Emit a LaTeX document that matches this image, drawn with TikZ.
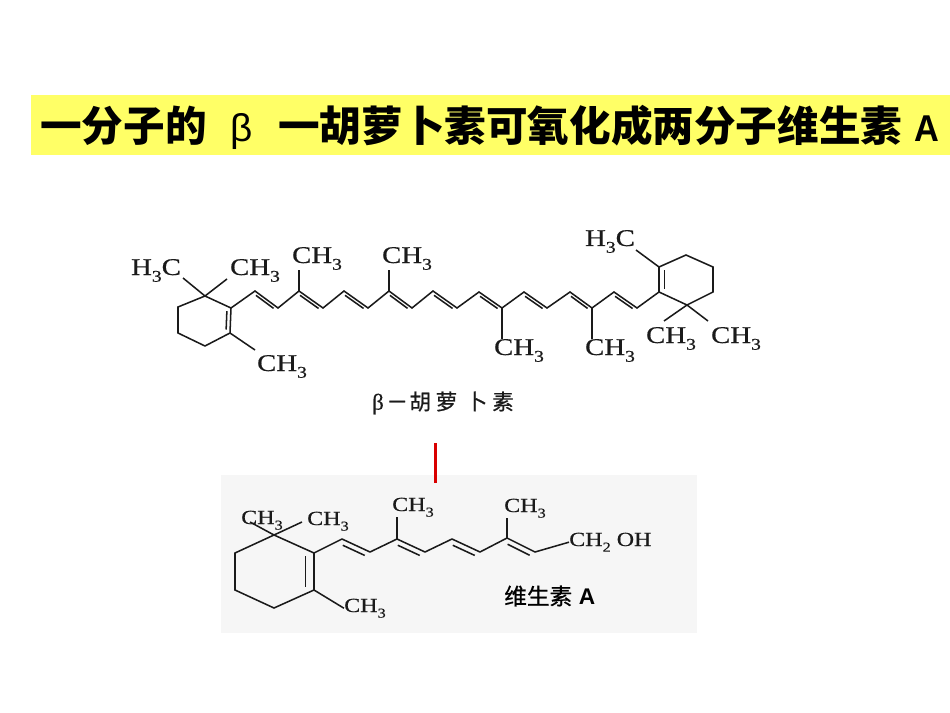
\documentclass[tikz,border=0pt]{standalone}
\usepackage{fontspec}
\setmainfont{Liberation Serif}[FakeBold=0.5]
\newfontfamily\cjk{Noto Sans CJK SC}
\newfontfamily\cjkmid{Noto Sans CJK SC}[FakeBold=0.7]
\newfontfamily\arial{Liberation Sans}
\usetikzlibrary{calc}
\newcommand{\wide}[1]{\scalebox{1.2}[1]{#1}}
\newcommand{\low}[1]{\raisebox{-0.28em}{\scalebox{0.68}{#1}}}
% second line of a double bond
\newcommand{\dbl}[3][3.2]{\draw[inner] ($(#2)!#1pt!-90:(#3)$) -- ($(#3)!#1pt!90:(#2)$);}
\definecolor{banner}{HTML}{FFFF66}
\definecolor{panel}{HTML}{F6F6F6}
\definecolor{ink}{HTML}{1A1A1A}
\begin{document}
\begin{tikzpicture}[x=0.75pt, y=-0.75pt,
	bond/.style = {draw=ink, line width=1.15pt, line join=miter},
	inner/.style = {bond, shorten <=2.5pt, shorten >=2.5pt},
	lab/.style = {inner sep=0pt, anchor=base, text=ink, font=\fontsize{18}{18}\selectfont},
	vlab/.style = {inner sep=0pt, anchor=base, text=ink, font=\fontsize{15}{15}\selectfont},
	title/.style = {inner sep=0pt, anchor=base west, font=\cjk\bfseries\fontsize{31.2}{31}\selectfont}]
	\useasboundingbox (0,0) rectangle (950,713);
	\fill[banner] (31,95) rectangle (950,155.5);
	\fill[panel] (221,475) rectangle (697,633);
	\node[title] (head) at (40,142) {一分子的\hspace{18pt}{\arial\mdseries\fontsize{29}{29}\selectfont β}\hspace{19pt}一胡萝卜素可氧化成两分子维生素\hspace{9pt}{\arial\bfseries\fontsize{28}{28}\selectfont\scalebox{0.92}[1]{A}}};

	% beta-carotene, left ring
	\coordinate (r1) at (205,296);
	\coordinate (r2) at (178,307);
	\coordinate (r3) at (178,333);
	\coordinate (r4) at (205,346);
	\coordinate (r5) at (230,333);
	\coordinate (r6) at (231,308);
	% chain
	\coordinate (c1) at (255,291);
	\coordinate (c2) at (278,308);
	\coordinate (c3) at (299,291);
	\coordinate (c4) at (323,308);
	\coordinate (c5) at (344,291);
	\coordinate (c6) at (368,308);
	\coordinate (c7) at (389,291);
	\coordinate (c8) at (412,308);
	\coordinate (c9) at (433,291);
	\coordinate (c10) at (457,308);
	\coordinate (c11) at (479,292);
	\coordinate (c12) at (502,308);
	\coordinate (c13) at (524,292);
	\coordinate (c14) at (547,308);
	\coordinate (c15) at (570,292);
	\coordinate (c16) at (592,308);
	\coordinate (c17) at (614,292);
	\coordinate (c18) at (637,308);
	% right ring
	\coordinate (s1) at (659,292);
	\coordinate (s2) at (659,267);
	\coordinate (s3) at (686,255);
	\coordinate (s4) at (713,267);
	\coordinate (s5) at (713,292);
	\coordinate (s6) at (687,305);
	% free ends of the slanted bonds
	\coordinate (e1) at (183,278);
	\coordinate (e2) at (227,279);
	\coordinate (e3) at (255,350);
	\coordinate (e4) at (664,321);
	\coordinate (e5) at (708,321);
	\coordinate (e6) at (636,250);

	\node[lab] (m1) at (156,275) {\wide{H\low{3}C}};
	\node[lab] (m2) at (255,275) {\wide{CH\low{3}}};
	\node[lab] (m3) at (282,371) {\wide{CH\low{3}}};
	\node[lab] (m4) at (317,263) {\wide{CH\low{3}}};
	\node[lab] (m5) at (407,263) {\wide{CH\low{3}}};
	\node[lab] (m6) at (519,355) {\wide{CH\low{3}}};
	\node[lab] (m7) at (610,355) {\wide{CH\low{3}}};
	\node[lab] (m8) at (671,343) {\wide{CH\low{3}}};
	\node[lab] (m9) at (736,343) {\wide{CH\low{3}}};
	\node[lab] (m10) at (610,246) {\wide{H\low{3}C}};

	\draw[bond] (r1) -- (r2) -- (r3) -- (r4) -- (r5) -- (r6) -- cycle;
	\draw[bond] (r6) -- (c1) -- (c2) -- (c3) -- (c4) -- (c5) -- (c6) -- (c7) -- (c8) -- (c9) -- (c10) -- (c11) -- (c12) -- (c13) -- (c14) -- (c15) -- (c16) -- (c17) -- (c18) -- (s1);
	\draw[bond] (s1) -- (s2) -- (s3) -- (s4) -- (s5) -- (s6) -- cycle;
	\draw[bond] (r1) -- (e1);
	\draw[bond] (r1) -- (e2);
	\draw[bond] (r5) -- (e3);
	\draw[bond] (c3) -- (c3 |- m4.south);
	\draw[bond] (c7) -- (c7 |- m5.south);
	\draw[bond] (c12) -- (c12 |- m6.north);
	\draw[bond] (c16) -- (c16 |- m7.north);
	\draw[bond] (s6) -- (e4);
	\draw[bond] (s6) -- (e5);
	\draw[bond] (s2) -- (e6);
	\dbl[3]{r6}{r5}
	\dbl[2.2]{c1}{c2}
	\dbl[2.2]{c3}{c4}
	\dbl[2.2]{c5}{c6}
	\dbl[2.2]{c7}{c8}
	\dbl[2.2]{c9}{c10}
	\dbl[2.2]{c11}{c12}
	\dbl[2.2]{c13}{c14}
	\dbl[2.2]{c15}{c16}
	\dbl[2.2]{c17}{c18}
	\dbl[4]{s1}{s2}

	\node[inner sep=0pt, anchor=west, text=ink, font=\cjkmid\fontsize{16.2}{16}\selectfont] (name1) at (372,403) {{\rmfamily\fontsize{17}{17}\selectfont β}\hspace{2pt}－\hspace{1pt}胡\hspace{3.5pt}萝\hspace{6.5pt}卜\hspace{3.5pt}素};

	\draw[red!85!black, line width=2.4pt] (435.5,443) coordinate (t1) -- (435.5,483) coordinate (t2);

	% vitamin A
	\coordinate (a1) at (274,535);
	\coordinate (a2) at (235,553);
	\coordinate (a3) at (235,590);
	\coordinate (a4) at (274,608);
	\coordinate (a5) at (314,590);
	\coordinate (a6) at (314,553);
	\coordinate (b1) at (342,539);
	\coordinate (b2) at (370,552);
	\coordinate (b3) at (397,539);
	\coordinate (b4) at (425,552);
	\coordinate (b5) at (452,539);
	\coordinate (b6) at (480,552);
	\coordinate (b7) at (507,538);
	\coordinate (b8) at (535,552);
	\coordinate (f1) at (250,522);
	\coordinate (f2) at (302,522);

	\node[vlab] (n1) at (262,524) {\wide{CH\low{3}}};
	\node[vlab] (n2) at (328,525) {\wide{CH\low{3}}};
	\node[vlab] (n3) at (365,612) {\wide{CH\low{3}}};
	\node[vlab] (n4) at (413,511) {\wide{CH\low{3}}};
	\node[vlab] (n5) at (525,512) {\wide{CH\low{3}}};
	\node[vlab, anchor=base west] (n6) at (569,546) {\wide{CH\low{2} OH}};
	\node[inner sep=0pt, anchor=west, font=\cjkmid\fontsize{17}{17}\selectfont] (name2) at (504,596) {维生素\hspace{5pt}{\arial\bfseries A}};

	\draw[bond] (a1) -- (a2) -- (a3) -- (a4) -- (a5) -- (a6) -- cycle;
	\draw[bond] (a6) -- (b1) -- (b2) -- (b3) -- (b4) -- (b5) -- (b6) -- (b7) -- (b8) -- (n6.west);
	\draw[bond] (a1) -- (f1);
	\draw[bond] (a1) -- (f2);
	\draw[bond] (a5) -- (n3.west);
	\draw[bond] (b3) -- (b3 |- n4.south);
	\draw[bond] (b7) -- (b7 |- n5.south);
	\dbl[6.5]{a6}{a5}
	\dbl[4]{b1}{b2}
	\dbl[4]{b3}{b4}
	\dbl[4]{b5}{b6}
	\dbl[4]{b7}{b8}
\end{tikzpicture}
\end{document}
